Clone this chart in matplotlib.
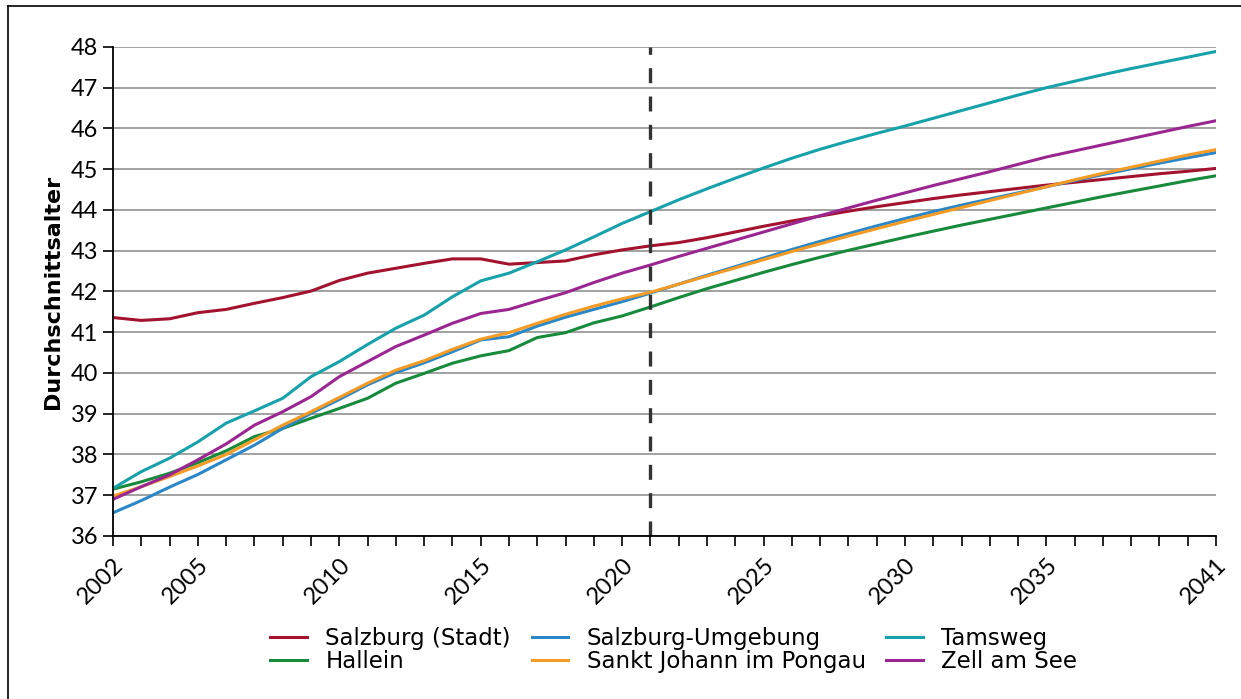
import matplotlib
matplotlib.use("Agg")
import matplotlib.pyplot as plt
from matplotlib.lines import Line2D
from matplotlib.ticker import MultipleLocator, FixedLocator

plt.rcParams["font.family"] = ["Lato", "DejaVu Sans"]

years = list(range(2002, 2042))

salzburg_stadt = [41.36, 41.29, 41.33, 41.48, 41.56, 41.71, 41.85, 42.01, 42.27, 42.45,
                  42.57, 42.69, 42.80, 42.80, 42.67, 42.71, 42.75, 42.90, 43.02, 43.12,
                  43.20, 43.32, 43.46, 43.60, 43.73, 43.85, 43.97, 44.08, 44.18, 44.28,
                  44.37, 44.45, 44.53, 44.61, 44.68, 44.75, 44.82, 44.89, 44.95, 45.02]
hallein = [37.15, 37.33, 37.54, 37.80, 38.09, 38.44, 38.64, 38.89, 39.13, 39.38,
           39.75, 39.99, 40.24, 40.42, 40.55, 40.87, 40.99, 41.23, 41.40, 41.62,
           41.85, 42.07, 42.27, 42.47, 42.66, 42.84, 43.01, 43.17, 43.33, 43.48,
           43.63, 43.77, 43.91, 44.05, 44.19, 44.33, 44.46, 44.59, 44.72, 44.84]
salzburg_umgebung = [36.57, 36.87, 37.20, 37.51, 37.87, 38.23, 38.64, 39.01, 39.35, 39.71,
                     40.01, 40.25, 40.52, 40.81, 40.89, 41.15, 41.37, 41.56, 41.75, 41.96,
                     42.18, 42.40, 42.61, 42.82, 43.03, 43.23, 43.42, 43.61, 43.79, 43.96,
                     44.12, 44.27, 44.42, 44.57, 44.72, 44.87, 45.01, 45.15, 45.28, 45.41]
sankt_johann = [36.98, 37.21, 37.46, 37.72, 38.00, 38.36, 38.72, 39.05, 39.40, 39.75,
                40.07, 40.30, 40.58, 40.83, 40.99, 41.22, 41.44, 41.64, 41.82, 41.98,
                42.18, 42.38, 42.58, 42.78, 42.98, 43.17, 43.36, 43.54, 43.72, 43.89,
                44.06, 44.23, 44.40, 44.57, 44.74, 44.90, 45.05, 45.20, 45.35, 45.48]
tamsweg = [37.17, 37.58, 37.91, 38.31, 38.77, 39.07, 39.38, 39.91, 40.28, 40.70,
           41.10, 41.42, 41.87, 42.26, 42.45, 42.73, 43.02, 43.34, 43.67, 43.96,
           44.25, 44.52, 44.78, 45.03, 45.27, 45.49, 45.69, 45.88, 46.06, 46.25,
           46.44, 46.63, 46.82, 47.00, 47.16, 47.32, 47.47, 47.61, 47.75, 47.89]
zell_am_see = [36.90, 37.21, 37.50, 37.87, 38.26, 38.72, 39.05, 39.42, 39.91, 40.28,
               40.65, 40.93, 41.22, 41.46, 41.56, 41.77, 41.97, 42.22, 42.45, 42.65,
               42.86, 43.06, 43.26, 43.46, 43.66, 43.86, 44.05, 44.24, 44.42, 44.60,
               44.77, 44.94, 45.12, 45.30, 45.45, 45.60, 45.75, 45.90, 46.05, 46.19]

# legend is filled column-wise, so this order gives the two reference rows
series = [
    ("Salzburg (Stadt)", salzburg_stadt, "#A3132F"),
    ("Hallein", hallein, "#178A3C"),
    ("Salzburg-Umgebung", salzburg_umgebung, "#2A87C8"),
    ("Sankt Johann im Pongau", sankt_johann, "#F39B25"),
    ("Tamsweg", tamsweg, "#17A2AB"),
    ("Zell am See", zell_am_see, "#9B2691"),
]

split_year = 2021
xtick_labels = [2002, 2005, 2010, 2015, 2020, 2025, 2030, 2035, 2041]

fig = plt.figure(figsize=(12.41, 6.99), dpi=100)
ax = fig.add_axes([0.0911, 0.2332, 0.8888, 0.6996])

for label, vals, color in series:
    ax.plot(years, vals, color=color, lw=2.2, label=label, zorder=3)

ax.axvline(split_year, color="#333333", lw=2.4, dashes=(4.5, 4), zorder=4)

ax.set_xlim(2002, 2041)
ax.set_ylim(36, 48)
ax.yaxis.set_major_locator(MultipleLocator(1))
ax.xaxis.set_major_locator(FixedLocator(xtick_labels))
ax.xaxis.set_minor_locator(MultipleLocator(1))
ax.set_xticklabels([str(y) for y in xtick_labels], rotation=45, ha="right",
                   rotation_mode="anchor")
ax.tick_params(axis="both", which="both", direction="out", length=7, width=1.2,
               labelsize=17, color="black")
ax.tick_params(axis="x", pad=6)
ax.grid(axis="y", color="#9a9a9a", lw=1.3, zorder=1)
ax.set_axisbelow(True)

for side in ("top", "right"):
    ax.spines[side].set_visible(False)
for side in ("left", "bottom"):
    ax.spines[side].set_linewidth(1.3)
    ax.spines[side].set_zorder(5)

ax.set_ylabel("Durchschnittsalter", fontsize=16, fontweight="bold", labelpad=6,
              family="DejaVu Sans")

fig.legend(loc="center", bbox_to_anchor=(0.543, 0.070), ncol=3, frameon=False,
           prop={"family": "DejaVu Sans", "size": 16.5},
           handlelength=1.6, handletextpad=0.8, columnspacing=0.9,
           labelspacing=0.0)

# frame of the original graphic (only left and top edges are inside the crop)
fig.add_artist(Line2D([8 / 1241, 8 / 1241], [0, 1 - 6 / 699], color="black", lw=1.2,
                      transform=fig.transFigure))
fig.add_artist(Line2D([8 / 1241, 1], [1 - 6 / 699, 1 - 6 / 699], color="black", lw=1.2,
                      transform=fig.transFigure))

fig.savefig("out.png", dpi=100)
